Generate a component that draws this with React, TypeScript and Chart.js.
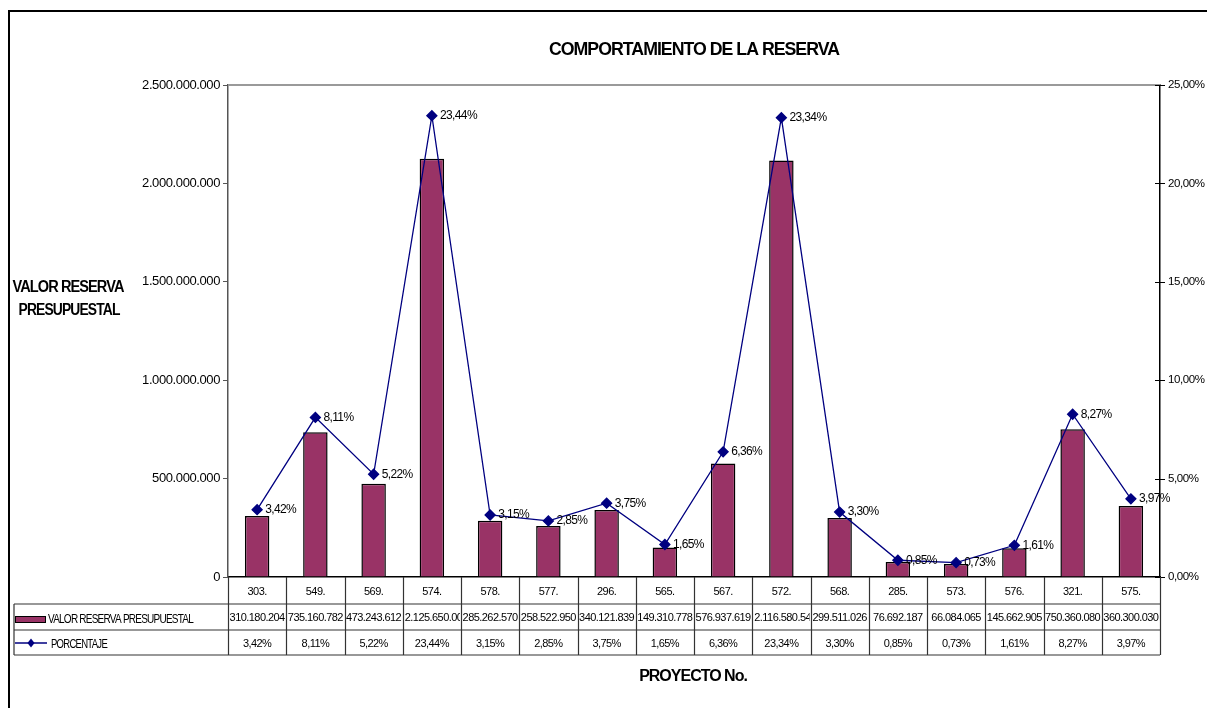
import React, { useEffect, useRef } from "react";
import { Chart, registerables } from "chart.js";

Chart.register(...registerables);

// ---------- DATA ----------
const projects = ["303.", "549.", "569.", "574.", "578.", "577.", "296.", "565.", "567.", "572.", "568.", "285.", "573.", "576.", "321.", "575."];
const reserveValues = [310180204, 735160782, 473243612, 2125650000, 285262570, 258522950, 340121839, 149310778, 576937619, 2116580540, 299511026, 76692187, 66084065, 145662905, 750360080, 360300030];
const percentages = [3.42, 8.11, 5.22, 23.44, 3.15, 2.85, 3.75, 1.65, 6.36, 23.34, 3.3, 0.85, 0.73, 1.61, 8.27, 3.97];
const leftTicks = [0, 500000000, 1000000000, 1500000000, 2000000000, 2500000000];
const rightTicks = [0, 5, 10, 15, 20, 25];

const chartTitle = "COMPORTAMIENTO DE LA RESERVA";
const yTitleLines = ["VALOR RESERVA", "PRESUPUESTAL"];
const xTitle = "PROYECTO No.";
const barLabel = "VALOR RESERVA PRESUPUESTAL";
const lineLabel = "PORCENTAJE";

// ---------- STYLE ----------
const FONT = '"Liberation Sans", Arial, Helvetica, sans-serif';
const BAR_COLOR = "#993366";
const LINE_COLOR = "#000080";

const fmtNum = (n: number) => Math.round(n).toString().replace(/\B(?=(\d{3})+(?!\d))/g, ".");
const fmtPct = (p: number) => p.toFixed(2).replace(".", ",") + "%";

function line(ctx: CanvasRenderingContext2D, x1: number, y1: number, x2: number, y2: number) {
  ctx.beginPath();
  ctx.moveTo(x1, y1);
  ctx.lineTo(x2, y2);
  ctx.stroke();
}

function diamond(ctx: CanvasRenderingContext2D, x: number, y: number, w: number, h: number) {
  ctx.beginPath();
  ctx.moveTo(x, y - h);
  ctx.lineTo(x + w, y);
  ctx.lineTo(x, y + h);
  ctx.lineTo(x - w, y);
  ctx.closePath();
  ctx.fill();
}

const decorPlugin = {
  id: "decor",
  beforeDraw(chart: any) {
    const ctx = chart.ctx;
    ctx.save();
    ctx.fillStyle = "#fff";
    ctx.fillRect(0, 0, chart.width, chart.height);
    ctx.restore();
    ctx.letterSpacing = "-0.4px";
  },
  afterDatasetsDraw(chart: any) {
    const ctx = chart.ctx as CanvasRenderingContext2D;
    const meta = chart.getDatasetMeta(1);
    ctx.save();
    ctx.font = `12px ${FONT}`;
    (ctx as any).letterSpacing = "-0.6px";
    ctx.fillStyle = "#000";
    ctx.textAlign = "left";
    ctx.textBaseline = "middle";
    meta.data.forEach((pt: any, i: number) => {
      ctx.fillText(fmtPct(percentages[i]), pt.x + 8, pt.y);
    });
    ctx.restore();
  },
  afterDraw(chart: any) {
    const ctx = chart.ctx as CanvasRenderingContext2D;
    const { left, right, top, bottom } = chart.chartArea;
    const xs = chart.scales.x;
    const y1 = chart.scales.y1;
    ctx.save();

    // frame
    ctx.fillStyle = "#000";
    ctx.fillRect(8, 10, 2, chart.height - 10);
    ctx.fillRect(8, 10, chart.width - 8, 2);

    // top border of plot area
    ctx.strokeStyle = "#9a9a9a";
    ctx.lineWidth = 2;
    line(ctx, left, top, right, top);

    // right axis tick marks (crossing the axis)
    ctx.strokeStyle = "#000";
    ctx.lineWidth = 1;
    rightTicks.forEach((t) => {
      const yy = Math.round(y1.getPixelForValue(t)) + 0.5;
      line(ctx, right - 5, yy, right + 5, yy);
    });

    // title
    ctx.fillStyle = "#000";
    ctx.textBaseline = "middle";
    ctx.textAlign = "center";
    ctx.font = `bold 18px ${FONT}`;
    (ctx as any).letterSpacing = "-1px";
    ctx.fillText(chartTitle, (left + right) / 2, 50, 290);

    // y title
    ctx.font = `bold 16px ${FONT}`;
    (ctx as any).letterSpacing = "-1px";
    ctx.fillText(yTitleLines[0], 68, 288, 111);
    ctx.fillText(yTitleLines[1], 69, 311, 101);

    // x title
    ctx.fillText(xTitle, (left + right) / 2 - 1, 677, 118);

    // data table
    const n = projects.length;
    const colW = (right - left) / n;
    const r0 = bottom;
    const r1 = 604;
    const r2 = 630;
    const r3 = 655;
    const tableLeft = 14;

    ctx.strokeStyle = "#333";
    ctx.lineWidth = 1.2;
    line(ctx, tableLeft, r1, right, r1);
    line(ctx, tableLeft, r2, right, r2);
    line(ctx, tableLeft, r3, right, r3);
    line(ctx, tableLeft, r1, tableLeft, r3);
    for (let k = 0; k <= n; k++) {
      const bx = Math.round(left + colW * k) + 0.5;
      line(ctx, bx, r0, bx, r3);
    }

    ctx.font = `11px ${FONT}`;
    (ctx as any).letterSpacing = "-0.55px";
    ctx.fillStyle = "#000";
    for (let i = 0; i < n; i++) {
      const cx = xs.getPixelForValue(i);
      const x0 = cx - colW / 2;
      // category label
      ctx.textAlign = "center";
      ctx.fillText(projects[i], cx, (r0 + r1) / 2 + 1);
      // values
      const cells = [
        { t: fmtNum(reserveValues[i]), y0: r1, y3: r2 },
        { t: fmtPct(percentages[i]), y0: r2, y3: r3 },
      ];
      cells.forEach((c) => {
        const w = ctx.measureText(c.t).width;
        ctx.save();
        ctx.beginPath();
        ctx.rect(x0 + 1, c.y0, colW - 2, c.y3 - c.y0);
        ctx.clip();
        if (w > colW - 2) {
          ctx.textAlign = "left";
          ctx.fillText(c.t, x0 + 2, (c.y0 + c.y3) / 2 + 1);
        } else {
          ctx.textAlign = "center";
          ctx.fillText(c.t, cx, (c.y0 + c.y3) / 2 + 1);
        }
        ctx.restore();
      });
    }

    // legend keys in table
    ctx.fillStyle = BAR_COLOR;
    ctx.fillRect(15, 616, 30, 6);
    ctx.strokeStyle = "#000";
    ctx.lineWidth = 1;
    ctx.strokeRect(15.5, 616.5, 30, 6);
    ctx.strokeStyle = LINE_COLOR;
    ctx.lineWidth = 1.5;
    line(ctx, 15, 643, 47, 643);
    ctx.fillStyle = LINE_COLOR;
    diamond(ctx, 31, 643, 3.5, 4.5);

    ctx.fillStyle = "#000";
    ctx.textAlign = "left";
    ctx.font = `13px ${FONT}`;
    (ctx as any).letterSpacing = "-1px";
    ctx.fillText(barLabel, 48, 619, 145);
    ctx.fillText(lineLabel, 51, 644, 56);

    ctx.restore();
  },
};

export default function App() {
  const ref = useRef<HTMLCanvasElement>(null);
  useEffect(() => {
    if (!ref.current) return;
    const chart = new Chart(ref.current, {
      type: "bar",
      data: {
        labels: projects,
        datasets: [
          {
            type: "bar",
            label: barLabel,
            data: reserveValues,
            yAxisID: "y",
            backgroundColor: BAR_COLOR,
            borderColor: "#000",
            borderWidth: 1.5,
            barPercentage: 0.42,
            categoryPercentage: 1,
            order: 2,
          },
          {
            type: "line",
            label: lineLabel,
            data: percentages,
            yAxisID: "y1",
            borderColor: LINE_COLOR,
            borderWidth: 1.3,
            backgroundColor: LINE_COLOR,
            pointStyle: "rectRot",
            pointRadius: 5,
            pointBackgroundColor: LINE_COLOR,
            pointBorderColor: LINE_COLOR,
            tension: 0,
            order: 1,
          },
        ],
      },
      options: {
        responsive: true,
        maintainAspectRatio: false,
        animation: false,
        layout: { padding: { top: 85, left: 0, right: 0, bottom: 0 } },
        plugins: {
          legend: { display: false },
          title: { display: false },
          tooltip: { enabled: false },
        },
        scales: {
          x: {
            type: "category",
            offset: true,
            grid: { display: false },
            ticks: { display: false },
            border: { display: true, color: "#000", width: 1.5 },
            afterFit: (s: any) => {
              s.height = 131;
            },
          },
          y: {
            position: "left",
            min: 0,
            max: 2500000000,
            afterBuildTicks: (s: any) => {
              s.ticks = leftTicks.map((v) => ({ value: v }));
            },
            ticks: {
              callback: (v: any) => fmtNum(Number(v)),
              font: { family: FONT, size: 13 },
              color: "#000",
              padding: 3,
            },
            grid: { drawOnChartArea: false, drawTicks: true, tickLength: 5, color: "#555" },
            border: { display: true, color: "#555", width: 1.5 },
            afterFit: (s: any) => {
              s.width = 228;
            },
          },
          y1: {
            position: "right",
            min: 0,
            max: 25,
            afterBuildTicks: (s: any) => {
              s.ticks = rightTicks.map((v) => ({ value: v }));
            },
            ticks: {
              callback: (v: any) => fmtPct(Number(v)),
              font: { family: FONT, size: 11.5 },
              color: "#000",
              padding: 8,
            },
            grid: { drawOnChartArea: false, drawTicks: false, tickLength: 5 },
            border: { display: true, color: "#000", width: 1.5 },
            afterFit: (s: any) => {
              s.width = 47;
            },
          },
        },
      } as any,
      plugins: [decorPlugin],
    });
    return () => chart.destroy();
  }, []);

  return (
    <div style={{ position: "fixed", left: 0, top: 0, width: 1207, height: 708, background: "#fff" }}>
      <canvas ref={ref} />
    </div>
  );
}
